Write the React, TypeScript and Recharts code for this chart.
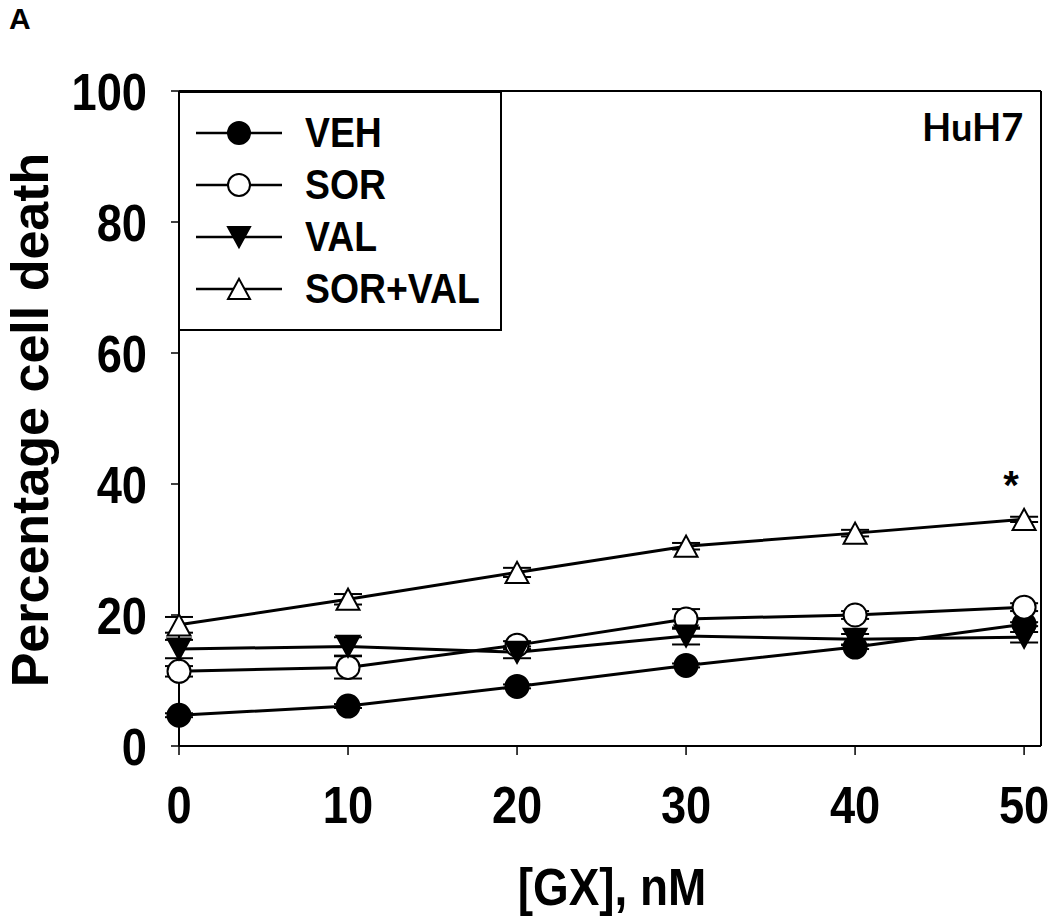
import React from "react";
import {
  LineChart,
  Line,
  XAxis,
  YAxis,
  ErrorBar,
  ReferenceLine,
  LabelList,
} from "recharts";

// doses of GX (nM) and mean % cell death per treatment
const doses = [0, 10, 20, 30, 40, 50];
const veh = [4.7, 6.1, 9.1, 12.3, 15.1, 18.6];
const sor = [11.4, 12.0, 15.4, 19.4, 20.0, 21.2];
const val = [14.8, 15.2, 14.3, 16.8, 16.3, 16.6];
const sorVal = [18.5, 22.4, 26.5, 30.5, 32.5, 34.6];

// error bar half-widths
const vehErr = [0.3, 0.3, 0.3, 0.3, 0.3, 0.3];
const sorErr = [0.8, 1.7, 0.6, 1.5, 0.6, 0.6];
const valErr = [1.4, 1.4, 0.9, 1.3, 0.8, 0.8];
const sorValErr = [1.2, 0.8, 0.7, 0.5, 0.5, 0.4];

const sorValSig = ["", "", "", "", "", "*"];

const yTicks = [0, 20, 40, 60, 80, 100];

const data = doses.map((d, i) => ({
  dose: d,
  veh: veh[i],
  vehErr: vehErr[i],
  sor: sor[i],
  sorErr: sorErr[i],
  val: val[i],
  valErr: valErr[i],
  sorVal: sorVal[i],
  sorValErr: sorValErr[i],
  sig: sorValSig[i],
}));

const FONT = "'Liberation Sans', Arial, sans-serif";

type Shape = "circleFilled" | "circleOpen" | "triDown" | "triUp";

const marker = (shape: Shape, cx: number, cy: number, s: number, key?: any) => {
  if (shape === "circleFilled" || shape === "circleOpen") {
    return (
      <circle
        key={key}
        cx={cx}
        cy={cy}
        r={s / 2}
        fill={shape === "circleFilled" ? "#000" : "#fff"}
        stroke="#000"
        strokeWidth={2}
      />
    );
  }
  const h = s * 0.92;
  const w = s / 2;
  const pts =
    shape === "triDown"
      ? `${cx - w},${cy - h / 2} ${cx + w},${cy - h / 2} ${cx},${cy + h / 2}`
      : `${cx - w},${cy + h / 2} ${cx + w},${cy + h / 2} ${cx},${cy - h / 2}`;
  return (
    <polygon
      key={key}
      points={pts}
      fill={shape === "triDown" ? "#000" : "#fff"}
      stroke="#000"
      strokeWidth={2}
      strokeLinejoin="miter"
    />
  );
};

const series: { key: string; err: string; name: string; shape: Shape }[] = [
  { key: "veh", err: "vehErr", name: "VEH", shape: "circleFilled" },
  { key: "sor", err: "sorErr", name: "SOR", shape: "circleOpen" },
  { key: "val", err: "valErr", name: "VAL", shape: "triDown" },
  { key: "sorVal", err: "sorValErr", name: "SOR+VAL", shape: "triUp" },
];

const YTick = ({ x, y, payload }: any) => (
  <text
    transform={`translate(${x},${y + 18.5}) scale(0.87,1)`}
    textAnchor="end"
    fontFamily={FONT}
    fontWeight="bold"
    fontSize={52}
    fill="#000"
  >
    {payload.value}
  </text>
);

const XTick = ({ x, y, payload }: any) => (
  <text
    transform={`translate(${x},${y + 37}) scale(0.87,1)`}
    textAnchor="middle"
    fontFamily={FONT}
    fontWeight="bold"
    fontSize={52}
    fill="#000"
  >
    {payload.value}
  </text>
);

const Star = (props: any) => {
  const { x, y, value } = props;
  if (!value) return null;
  return (
    <text
      x={x - 13}
      y={y - 20}
      textAnchor="middle"
      fontFamily={FONT}
      fontWeight="bold"
      fontSize={40}
      fill="#000"
    >
      {value}
    </text>
  );
};

export default function App() {
  return (
    <div
      style={{
        position: "absolute",
        left: 0,
        top: 0,
        width: 1050,
        height: 923,
        background: "#fff",
      }}
    >
      <LineChart
        width={1050}
        height={923}
        data={data}
        margin={{ top: 91, right: 9, bottom: 77, left: 79 }}
      >
        <XAxis
          dataKey="dose"
          type="number"
          domain={[0, 51]}
          ticks={doses}
          height={100}
          axisLine={{ stroke: "#000", strokeWidth: 2 }}
          tickLine={{ stroke: "#000", strokeWidth: 1.5 }}
          tickSize={9}
          tickMargin={31}
          tick={<XTick />}
        />
        <YAxis
          type="number"
          domain={[0, 100]}
          ticks={yTicks}
          width={100}
          axisLine={{ stroke: "#000", strokeWidth: 2 }}
          tickLine={{ stroke: "#000", strokeWidth: 1.5 }}
          tickSize={8}
          tickMargin={24}
          tick={<YTick />}
        />
        <ReferenceLine y={100} stroke="#000" strokeWidth={2} />
        <ReferenceLine x={51} stroke="#000" strokeWidth={2} />
        {series.map((s) => (
          <Line
            key={s.key}
            dataKey={s.key}
            stroke="#000"
            strokeWidth={3}
            isAnimationActive={false}
            dot={(p: any) => marker(s.shape, p.cx, p.cy, 23, `${s.key}-${p.index}`)}
          >
            <ErrorBar
              dataKey={s.err}
              direction="y"
              width={14}
              stroke="#000"
              strokeWidth={2}
            />
            {s.key === "sorVal" && (
              <LabelList dataKey="sig" content={<Star />} />
            )}
          </Line>
        ))}
      </LineChart>

      {/* text annotations */}
      <svg
        width={1050}
        height={923}
        style={{ position: "absolute", left: 0, top: 0, pointerEvents: "none" }}
      >
        <text x={9} y={29} fontFamily={FONT} fontWeight="bold" fontSize={30}>
          A
        </text>
        <text
          transform="translate(48,420) rotate(-90)"
          textAnchor="middle"
          fontFamily={FONT}
          fontWeight="bold"
          fontSize={52}
        >
          Percentage cell death
        </text>
        <text
          transform="translate(612,905) scale(0.9,1)"
          textAnchor="middle"
          fontFamily={FONT}
          fontWeight="bold"
          fontSize={51}
        >
          [GX], nM
        </text>
        <text
          x={922}
          y={141}
          fontFamily="Lato, 'Open Sans', sans-serif"
          fontWeight="bold"
          fontSize={38}
        >
          HuH7
        </text>
      </svg>

      {/* legend box */}
      <div
        style={{
          position: "absolute",
          left: 178,
          top: 91,
          width: 324,
          height: 240,
          boxSizing: "border-box",
          border: "2px solid #000",
          background: "#fff",
        }}
      >
        {series.map((s, i) => (
          <div
            key={s.key}
            style={{
              position: "absolute",
              left: 0,
              top: 14 + i * 52,
              height: 52,
              width: 320,
            }}
          >
            <svg
              width={90}
              height={52}
              style={{ position: "absolute", left: 16, top: 0 }}
            >
              <line x1={0} y1={26} x2={86} y2={26} stroke="#000" strokeWidth={2.5} />
              {marker(s.shape, 43, 26, 22)}
            </svg>
            <div
              style={{
                position: "absolute",
                left: 125,
                top: 0,
                height: 52,
                lineHeight: "52px",
                fontFamily: FONT,
                fontWeight: "bold",
                fontSize: 42,
                transform: "scaleX(0.89)",
                transformOrigin: "left center",
                whiteSpace: "nowrap",
              }}
            >
              {s.name}
            </div>
          </div>
        ))}
      </div>
    </div>
  );
}
